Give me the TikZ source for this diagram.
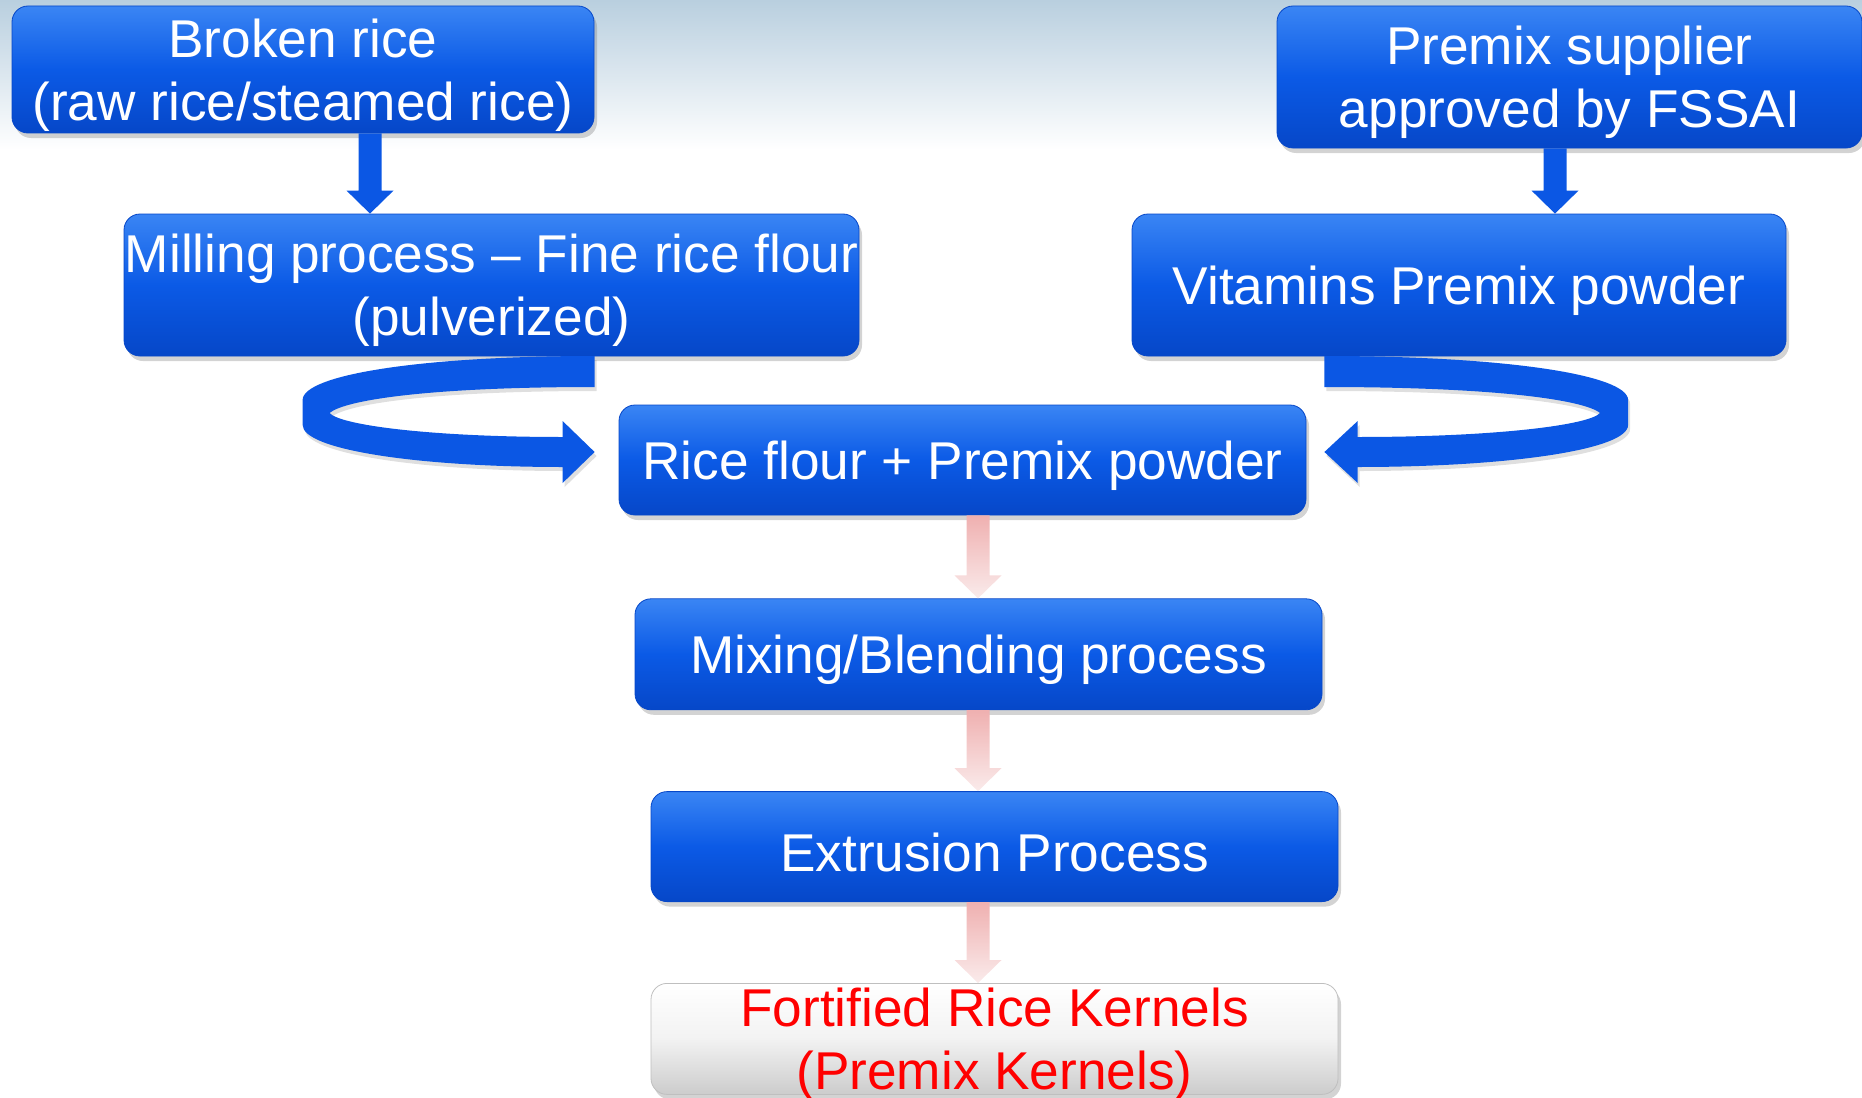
\documentclass[tikz,border=0pt]{standalone}
\usepackage{fontspec}
\setmainfont{Liberation Sans}
\usetikzlibrary{calc,positioning,shadows}
\definecolor{bxT}{HTML}{3A85F4}
\definecolor{bxM}{HTML}{0B5AE6}
\definecolor{bxB}{HTML}{0647C8}
\definecolor{rib}{HTML}{0B57E4}
\definecolor{pkT}{HTML}{EFB0B0}
\definecolor{pkB}{HTML}{FAEBEB}
\definecolor{haze}{HTML}{B9CFDF}
\definecolor{kred}{HTML}{FF0000}
\tikzset{
  every node/.style={font=\fontsize{26.6pt}{31.5pt}\selectfont},
  txt/.style={align=center, execute at begin node={\rule{0pt}{25pt}}},
  two/.style={text depth=0pt},
  blk/.style={txt, rounded corners=8pt, inner sep=0pt, text=white,
              top color=bxT, bottom color=bxB, middle color=bxM,
              draw=bxB, line width=0.4pt,
              drop shadow={opacity=0.35, shadow xshift=1.5pt, shadow yshift=-2.5pt}},
  wbox/.style={blk, top color=white, bottom color=white!80!black,
               middle color=white!95!black, draw=black!25},
  band/.style={fill=rib, drop shadow={opacity=0.25, shadow xshift=1pt, shadow yshift=-2pt}},
  pink/.style={top color=pkT, bottom color=pkB},
}
% block arrow pointing down: style, from, to, x position
\newcommand\dnarrow[4]{%
  \path (#2.south -| #4) coordinate (pa) (#3.north -| #4) coordinate (pb);
  \path[#1] ($(pa)+(-11.5,0)$) -- ($(pa)+(11.5,0)$) -- ($(pb)+(11.5,-23)$)
    -- ($(pb)+(23.5,-23)$) -- (pb) -- ($(pb)+(-23.5,-23)$) -- ($(pb)+(-11.5,-23)$) -- cycle;}

\begin{document}
\begin{tikzpicture}[x=0.5pt,y=-0.5pt]
\useasboundingbox (0,0) rectangle (1862,1097);
\shade[top color=haze, bottom color=white] (0,0) rectangle (1862,150);

\node[blk, two, minimum width=291pt, minimum height=63.5pt] (brk) at (303,69.5)
  {Broken rice\\(raw rice/steamed rice)};
\node[blk, two, minimum width=292.5pt, minimum height=71pt] (sup) at (1569.5,77)
  {Premix supplier\\approved by FSSAI};
\node[blk, two, minimum width=367.5pt, minimum height=71pt] (mill) at (491.5,285)
  {Milling process -- Fine rice flour\\(pulverized)};
\node[blk, minimum width=327pt, minimum height=71pt] (vit) at (1459,285)
  {Vitamins Premix powder};

\node[blk, minimum width=343.5pt, minimum height=55pt] (mix) at (962.5,460)
  {Rice flour + Premix powder};
\node[blk, minimum width=343.5pt, minimum height=55.5pt, below=41.5pt of mix, xshift=8pt] (blend)
  {Mixing/Blending process};
\node[blk, minimum width=343.5pt, minimum height=55pt, below=40.5pt of blend, xshift=8pt] (extr)
  {Extrusion Process};
\node[wbox, minimum width=343.5pt, minimum height=55.5pt, below=40.5pt of extr] (frk) {};
\node[txt, two, text=kred] (frkt) at (frk.center)
  {Fortified Rice Kernels\\(Premix Kernels)};

% straight arrows
\coordinate (ax1) at (370,0);
\coordinate (ax2) at (1555,0);
\coordinate (ax3) at (978,0);
\dnarrow{fill=rib}{brk}{mill}{ax1}
\dnarrow{fill=rib}{sup}{vit}{ax2}
\dnarrow{pink}{mix}{blend}{ax3}
\dnarrow{pink}{blend}{extr}{ax3}
\dnarrow{pink}{extr}{frk}{ax3}

% curled arrows into the mix box
\begin{scope}[shift={($(mix.west)+(-24,-8)$)}]
  \path[band] (0,-96) .. controls (-175,-96) and (-292,-77) .. (-292,-52) -- (-292,-27)
    .. controls (-292,-2) and (-175,15) .. (-32,15) -- (-32,31) -- (0,0) -- (-32,-31)
    -- (-32,-15) .. controls (-165,-15) and (-255,-27) .. (-265,-39)
    .. controls (-250,-52) and (-165,-65) .. (0,-65) -- cycle;
\end{scope}
\begin{scope}[shift={($(mix.east)+(18,-8)$)}, xscale=-1.04]
  \path[band] (0,-96) .. controls (-175,-96) and (-292,-77) .. (-292,-52) -- (-292,-27)
    .. controls (-292,-2) and (-175,15) .. (-32,15) -- (-32,31) -- (0,0) -- (-32,-31)
    -- (-32,-15) .. controls (-165,-15) and (-255,-27) .. (-265,-39)
    .. controls (-250,-52) and (-165,-65) .. (0,-65) -- cycle;
\end{scope}

\end{tikzpicture}
\end{document}
